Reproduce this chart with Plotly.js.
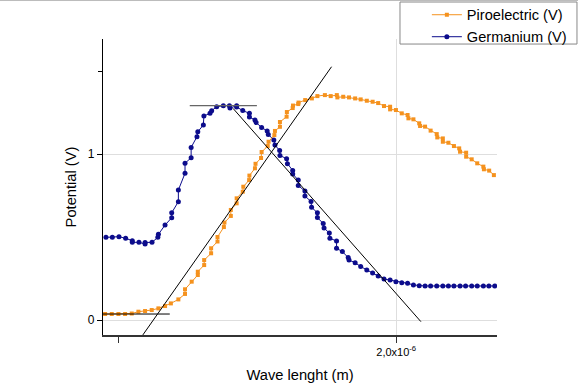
<!DOCTYPE html>
<html>
<head>
<meta charset="utf-8">
<script src="https://cdn.plot.ly/plotly-3.0.1.min.js"></script>
<style>
html,body{margin:0;padding:0;background:#fff;}
#chart{width:578px;height:385px;}
</style>
</head>
<body>
<div id="chart"></div>
<script>
// Wavelength values in micrometres (axis labelled in metres, x10^-6)
const piroWave = [0.951,0.975,0.999,1.023,1.047,1.071,1.095,1.119,1.143,1.167,1.188,1.215,1.239,1.239,1.263,1.285,1.285,1.308,1.308,1.333,1.333,1.356,1.356,1.379,1.381,1.404,1.404,1.425,1.425,1.447,1.449,1.470,1.471,1.491,1.493,1.513,1.515,1.537,1.540,1.561,1.563,1.581,1.581,1.605,1.606,1.627,1.628,1.647,1.648,1.672,1.696,1.716,1.743,1.764,1.786,1.788,1.809,1.830,1.852,1.872,1.894,1.915,1.935,1.956,1.978,1.978,1.999,2.020,2.041,2.044,2.062,2.083,2.086,2.104,2.124,2.146,2.148,2.168,2.168,2.188,2.208,2.227,2.230,2.252,2.252,2.272,2.292,2.314,2.316,2.335,2.352];
const piroVolt = [0.036,0.036,0.036,0.036,0.039,0.050,0.054,0.060,0.070,0.084,0.100,0.124,0.157,0.185,0.231,0.271,0.291,0.331,0.361,0.402,0.432,0.473,0.500,0.560,0.587,0.627,0.663,0.703,0.733,0.773,0.803,0.843,0.870,0.914,0.941,0.976,1.012,1.048,1.074,1.114,1.139,1.164,1.193,1.225,1.253,1.277,1.292,1.301,1.310,1.325,1.335,1.349,1.355,1.349,1.355,1.341,1.345,1.341,1.335,1.329,1.321,1.315,1.307,1.289,1.285,1.269,1.265,1.245,1.235,1.215,1.209,1.185,1.169,1.165,1.141,1.120,1.100,1.094,1.074,1.068,1.048,1.034,1.014,1.008,0.984,0.968,0.944,0.924,0.908,0.900,0.873];

const geWave = [0.954,0.977,1.001,1.025,1.049,1.049,1.073,1.095,1.095,1.120,1.141,1.143,1.167,1.191,1.191,1.215,1.215,1.239,1.239,1.261,1.261,1.282,1.285,1.305,1.307,1.329,1.335,1.353,1.377,1.399,1.401,1.425,1.425,1.447,1.471,1.471,1.491,1.495,1.515,1.535,1.539,1.559,1.563,1.580,1.581,1.605,1.608,1.627,1.627,1.647,1.647,1.671,1.671,1.693,1.695,1.716,1.716,1.737,1.740,1.759,1.761,1.785,1.785,1.806,1.827,1.830,1.852,1.872,1.894,1.915,1.935,1.956,1.978,1.999,2.020,2.041,2.062,2.083,2.104,2.124,2.146,2.168,2.188,2.208,2.230,2.250,2.272,2.292,2.314,2.334,2.355];
const geVolt = [0.498,0.498,0.502,0.492,0.478,0.468,0.468,0.458,0.467,0.468,0.498,0.516,0.572,0.616,0.646,0.713,0.783,0.884,0.944,0.978,1.040,1.104,1.134,1.175,1.229,1.245,1.261,1.285,1.291,1.291,1.277,1.291,1.283,1.262,1.245,1.223,1.205,1.190,1.160,1.139,1.118,1.084,1.054,1.021,0.991,0.972,0.942,0.901,0.880,0.843,0.810,0.777,0.747,0.714,0.679,0.646,0.617,0.581,0.554,0.524,0.492,0.476,0.432,0.412,0.376,0.361,0.345,0.322,0.301,0.283,0.265,0.247,0.241,0.231,0.225,0.221,0.211,0.207,0.205,0.205,0.205,0.205,0.205,0.205,0.205,0.205,0.205,0.205,0.205,0.205,0.205];

// Hand-drawn guide lines (endpoints)
const baseLineX = [0.903, 1.184], baseLineY = [0.036, 0.036];
const riseLineX = [1.087, 1.767], riseLineY = [-0.09, 1.526];
const peakLineX = [1.256, 1.498], peakLineY = [1.291, 1.291];
const fallLineX = [1.412, 2.089], fallLineY = [1.275, -0.01];

// Tick labels
const xTickVals = [2.0], xTickText = ['2,0x10<sup>-6</sup>'];
const yTickVals = [0, 1], yTickText = ['0', '1'];

const orange = '#F5921E';
const navy = '#0c0c8c';

const traces = [
  {x: geWave, y: geVolt, name: 'Germanium (V)', mode: 'lines+markers', type: 'scatter',
   line: {color: navy, width: 1}, marker: {color: navy, size: 5, symbol: 'circle'}, legendrank: 2},
  {x: piroWave, y: piroVolt, name: 'Piroelectric (V)', mode: 'lines+markers', type: 'scatter',
   line: {color: orange, width: 1}, marker: {color: orange, size: 4, symbol: 'square'}, legendrank: 1},
  {x: baseLineX, y: baseLineY, mode: 'lines', showlegend: false, line: {color: '#000', width: 1}},
  {x: riseLineX, y: riseLineY, mode: 'lines', showlegend: false, line: {color: '#000', width: 1}},
  {x: peakLineX, y: peakLineY, mode: 'lines', showlegend: false, line: {color: '#666', width: 1.2}},
  {x: fallLineX, y: fallLineY, mode: 'lines', showlegend: false, line: {color: '#000', width: 1}}
];

const font = {family: 'Liberation Sans, Arial, sans-serif', color: '#000'};

const layout = {
  width: 578, height: 385,
  margin: {l: 103, r: 81, t: 39, b: 50, autoexpand: false},
  paper_bgcolor: '#fff', plot_bgcolor: '#fff',
  font: font,
  showlegend: true,
  legend: {x: 0.822, xanchor: 'left', y: 1.136, yanchor: 'top',
           bgcolor: 'rgba(0,0,0,0)', borderwidth: 0,
           font: {family: font.family, size: 14.6, color: '#000'}, tracegroupgap: 0},
  xaxis: {
    range: [0.9434, 2.3632], tickmode: 'array', tickvals: xTickVals, ticktext: xTickText,
    ticks: 'outside', ticklen: 6, tickcolor: '#333', tickwidth: 1,
    showgrid: true, gridcolor: '#dedede', gridwidth: 1, zeroline: false,
    showline: true, linecolor: '#333', linewidth: 1.5,
    tickfont: {family: font.family, size: 11, color: '#000'},
    minor: {tickmode: 'array', tickvals: [1.0], ticks: 'outside', ticklen: 6, tickcolor: '#333', showgrid: false},
    title: {text: 'Wave lenght (m)', font: {family: font.family, size: 14.7, color: '#000'}, standoff: 13}
  },
  yaxis: {
    range: [-0.0904, 1.693], tickmode: 'array', tickvals: yTickVals, ticktext: yTickText,
    ticks: 'outside', ticklen: 5, tickcolor: '#000', tickwidth: 1,
    showgrid: true, gridcolor: '#dedede', gridwidth: 1, zeroline: false,
    showline: true, linecolor: '#000', linewidth: 1.2,
    tickfont: {family: font.family, size: 12, color: '#000'},
    minor: {tickmode: 'array', tickvals: [1.5], ticks: 'outside', ticklen: 4, tickcolor: '#000', showgrid: false},
    title: {text: 'Potential (V)', font: {family: font.family, size: 14.7, color: '#000'}, standoff: 7}
  },
  shapes: [
    {type: 'rect', xref: 'paper', yref: 'paper', x0: 0.7538, x1: 1.2030, y0: 0.983, y1: 1.125,
     line: {color: '#888', width: 1}, fillcolor: 'rgba(0,0,0,0)'},
    {type: 'line', xref: 'paper', yref: 'paper', x0: -0.2614, x1: 1.2056, y0: 1.1300, y1: 1.1300,
     line: {color: '#bbb', width: 1}}
  ]
};

Plotly.newPlot('chart', traces, layout, {displayModeBar: false, staticPlot: true});
</script>
</body>
</html>
